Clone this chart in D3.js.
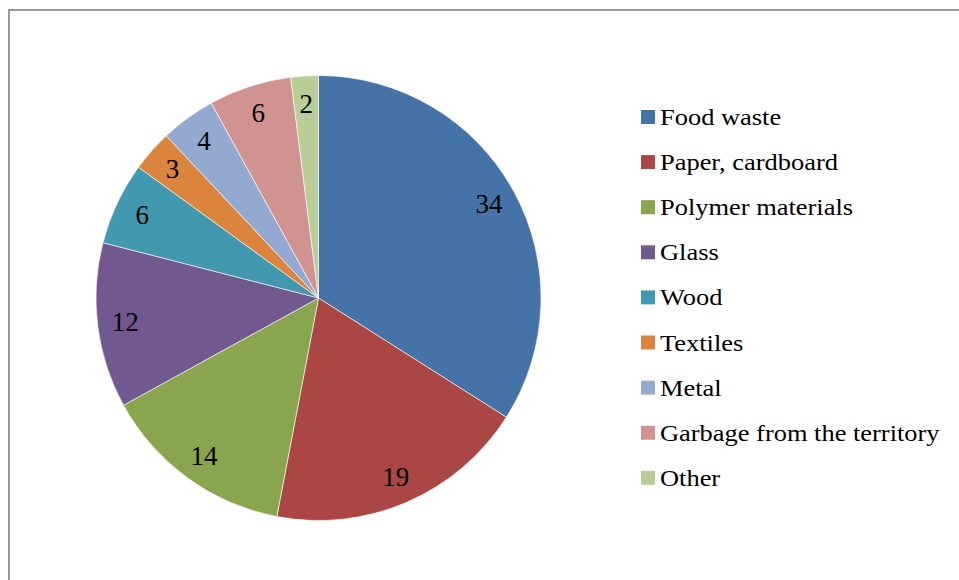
<!DOCTYPE html>
<html>
<head>
<meta charset="utf-8">
<script src="https://cdn.jsdelivr.net/npm/d3@7"></script>
<style>
  body { margin: 0; background: #fff; }
  svg { display: block; }
</style>
</head>
<body>
<div id="chart"></div>
<script>
// Data
const categories = ['Food waste', 'Paper, cardboard', 'Polymer materials', 'Glass', 'Wood',
  'Textiles', 'Metal', 'Garbage from the territory', 'Other'];
const values = [34, 19, 14, 12, 6, 3, 4, 6, 2];
const colors = ['#4572A7', '#AA4643', '#89A54E', '#71588F', '#4198AF',
  '#DB843D', '#93A9CF', '#D19392', '#B9CD96'];

// Dimensions
const WIDTH = 959;
const HEIGHT = 580;
const CX = 318.5, CY = 298, R = 222.5;
const FONT = '"Liberation Serif", "Times New Roman", serif';

const svg = d3.select('#chart')
  .append('svg')
  .attr('width', WIDTH)
  .attr('height', HEIGHT);

// chart frame
svg.append('rect')
  .attr('x', 9).attr('y', 10)
  .attr('width', 980).attr('height', 620)
  .attr('fill', 'none')
  .attr('stroke', '#8a8a8a')
  .attr('stroke-width', 1.75);

const data = categories.map((c, i) => ({ name: c, value: values[i], color: colors[i] }));

const pie = d3.pie().sort(null).value((d) => d.value);
const arc = d3.arc().innerRadius(0).outerRadius(R);
const labelArc = d3.arc().innerRadius(R * 0.875).outerRadius(R * 0.875);

const g = svg.append('g').attr('transform', `translate(${CX}, ${CY})`);
const arcs = pie(data);

g.selectAll('path')
  .data(arcs)
  .enter()
  .append('path')
  .attr('d', arc)
  .attr('fill', (d) => d.data.color)
  .attr('stroke', '#fff')
  .attr('stroke-width', 0.6);

g.selectAll('text')
  .data(arcs)
  .enter()
  .append('text')
  .attr('x', (d) => labelArc.centroid(d)[0])
  .attr('y', (d) => labelArc.centroid(d)[1] + 9)
  .attr('text-anchor', 'middle')
  .style('font-family', FONT)
  .style('font-size', '27px')
  .attr('fill', '#000')
  .text((d) => d.data.value);

// Legend
const legend = svg.append('g');
const rows = legend.selectAll('g')
  .data(data)
  .enter()
  .append('g')
  .attr('transform', (d, i) => `translate(641, ${125 + i * 45.1})`);

rows.append('rect')
  .attr('x', 0).attr('y', -15)
  .attr('width', 14).attr('height', 14)
  .attr('fill', (d) => d.color);

rows.append('text')
  .attr('transform', 'translate(19, 0) scale(1.15, 1)')
  .style('font-family', FONT)
  .style('font-size', '23px')
  .attr('fill', '#000')
  .text((d) => d.name);
</script>
</body>
</html>
